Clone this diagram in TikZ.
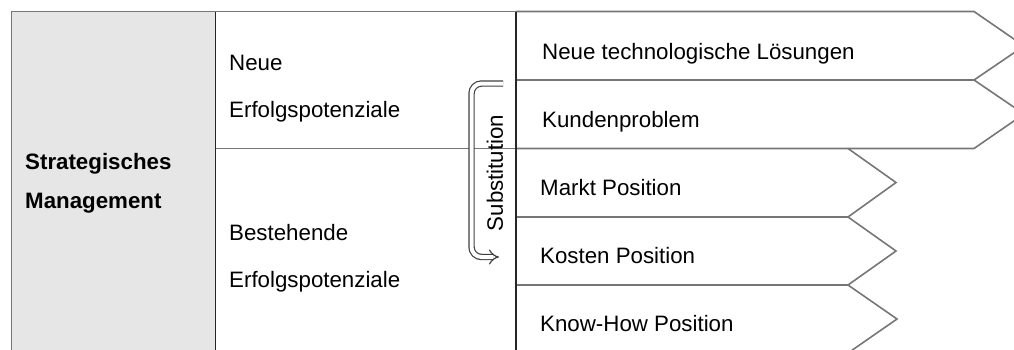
\documentclass[tikz,border=0pt]{standalone}
\usepackage{fontspec}
\setmainfont{Liberation Sans}
\usetikzlibrary{arrows.meta}
\definecolor{framegray}{HTML}{767676}
\definecolor{panelfill}{HTML}{E7E6E6}
\tikzset{
  frameline/.style={draw=framegray, line width=1.6pt},
  divider/.style={draw=black!85, line width=1.4pt},
  label/.style={anchor=base west, inner sep=0pt, font=\fontsize{22.3}{22.3}\selectfont},
  boldlabel/.style={label, font=\fontsize{22.3}{22.3}\selectfont\bfseries},
  subarrow/.style={draw=black!75, line width=1.2pt, double=white, double distance=4pt,
    rounded corners=10pt, -{Implies[scale=1.25]}},
}
\begin{document}
\begin{tikzpicture}[x=1pt, y=-1pt]
\useasboundingbox (0,0) rectangle (1014,349);
\clip (0,0) rectangle (1014,349);

% grey heading column
\fill[panelfill] (11.5,11.5) rectangle (215.5,352);
\draw[frameline] (11.5,352) -- (11.5,11.5) -- (516,11.5);

% chevrons for the new potentials
\draw[frameline] (516,11.5) -- (974,11.5) -- (1024,46) -- (974,80) -- (516,80);
\draw[frameline] (974,80) -- (1024,114) -- (974,148.5) -- (516,148.5);

% chevrons for the existing potentials
\draw[frameline] (848,148.5) -- (896,182.5) -- (848,217) -- (516,217);
\draw[frameline] (848,217) -- (896,251) -- (848,285) -- (516,285);
\draw[frameline] (848,285) -- (897,319) -- (848,353);

% row separator in the middle column
\draw[frameline] (215.5,148.5) -- (516,148.5);

% column dividers
\draw[divider] (215.5,11.5) -- (215.5,352);
\draw[divider] (516,11.5) -- (516,352);

% texts
\node[boldlabel] (sm1) at (25,169) {Strategisches};
\node[boldlabel] (sm2) at (25,208) {Management};

\node[label] (ne1) at (229,70) {Neue};
\node[label] (ne2) at (229,117) {Erfolgspotenziale};
\node[label] (be1) at (229,240) {Bestehende};
\node[label] (be2) at (229,287) {Erfolgspotenziale};

\node[label] (r1) at (542,59) {Neue technologische Lösungen};
\node[label] (r2) at (542,127) {Kundenproblem};
\node[label] (r3) at (540,195) {Markt Position};
\node[label] (r4) at (540,263) {Kosten Position};
\node[label] (r5) at (540,331) {Know-How Position};

% substitution arrow
\coordinate (arrS) at (503,83.5);
\coordinate (arrE) at (499,257);
\draw[subarrow] (arrS) -- (471.5,83.5) -- (471.5,257) -- (arrE);
\node[rotate=90, inner sep=0pt, font=\fontsize{22.3}{22.3}\selectfont] (subst) at (495,173) {Substitution};
\end{tikzpicture}
\end{document}
